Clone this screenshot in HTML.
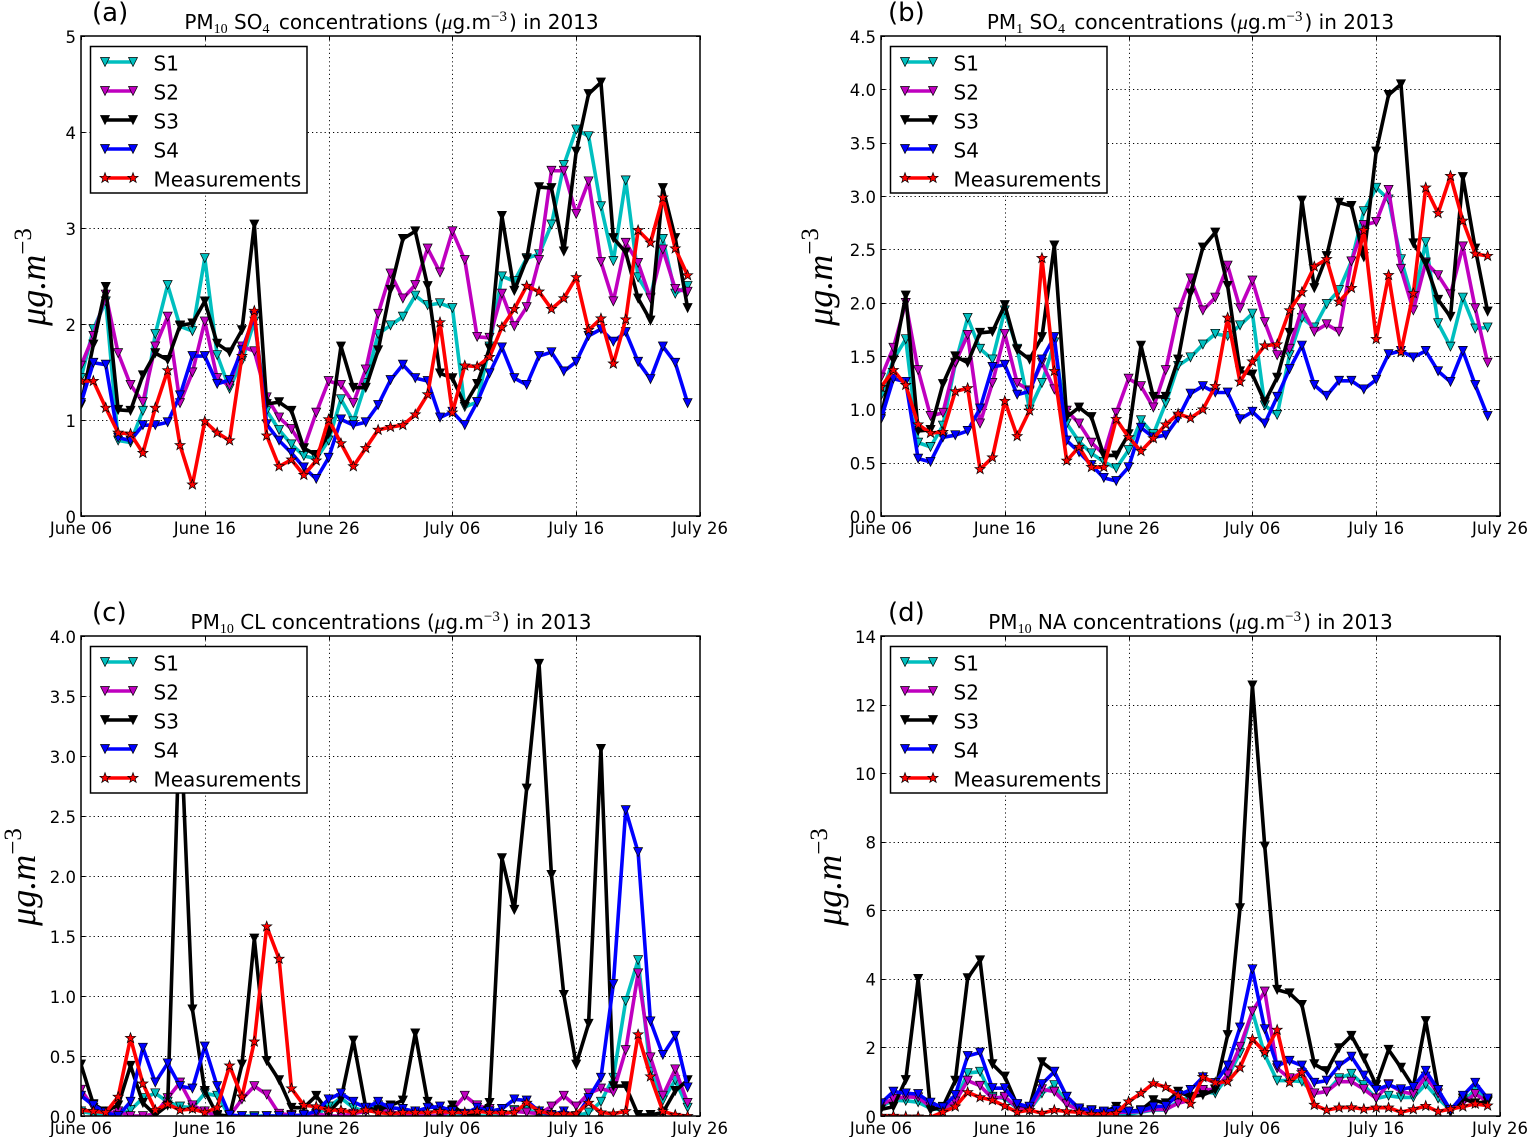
<!DOCTYPE html>
<html lang="en">
<head>
<meta charset="utf-8">
<title>Sulfate, chloride and sodium concentrations in 2013</title>
<style>
html,body{margin:0;padding:0;background:#fff;width:1528px;height:1137px;overflow:hidden}
svg{display:block}
text{font-family:"DejaVu Sans","Liberation Sans",sans-serif;fill:#000}
.tick{font-size:16.5px}
.title{font-size:20px;text-anchor:middle}
.sub{font-family:"Liberation Serif",serif;font-size:14px}
.sup{font-family:"Liberation Serif",serif;font-size:15px}
.mu{font-family:"Liberation Serif",serif;font-style:italic;font-size:21px}
.letter{font-size:26px}
.leg{font-size:20px}
.ylab{font-family:"Liberation Serif","DejaVu Serif",serif;font-style:italic;font-size:36px;text-anchor:middle}
.ylab .exp{font-style:normal;font-size:25px}
</style>
</head>
<body>
<svg id="figure" width="1528" height="1137" viewBox="0 0 1528 1137" xmlns="http://www.w3.org/2000/svg">
<defs>
<polygon id="tri" points="-4.5,-4.5 4.5,-4.5 0,4.5" stroke="#000" stroke-width="0.7"/>
<polygon id="star" points="0,-5.4 1.3,-1.8 5.1,-1.7 2.1,.7 3.2,4.4 0,2.2 -3.2,4.4 -2.1,.7 -5.1,-1.7 -1.3,-1.8" stroke="#000" stroke-width="0.7"/>
<clipPath id="clip-a"><rect x="81" y="36" width="619" height="480"/></clipPath>
<clipPath id="clip-b"><rect x="881" y="36" width="619" height="480"/></clipPath>
<clipPath id="clip-c"><rect x="81" y="636" width="619" height="480"/></clipPath>
<clipPath id="clip-d"><rect x="881" y="636" width="619" height="480"/></clipPath>
</defs>

<!-- Panel (a) -->
<g id="panel-a">
<g id="plot-a"></g>
<rect x="81" y="36" width="619" height="480" fill="none" stroke="#000" stroke-width="1.5"/>
<text class="letter" x="92" y="21">(a)</text>
<text class="title" x="391.5" y="29">PM<tspan class="sub" dy="4">10</tspan><tspan dy="-4"> SO</tspan><tspan class="sub" dy="4">4</tspan><tspan dy="-4" dx="3"> concentrations (</tspan><tspan class="mu">μ</tspan><tspan>g.m</tspan><tspan class="sup" dy="-8">−3</tspan><tspan dy="8" dx="2">) in 2013</tspan></text>
<text class="ylab" transform="translate(45,277) rotate(-90)">μg.m<tspan class="exp" dy="-14">−3</tspan></text>
<g>
<rect x="90.5" y="46.5" width="216.5" height="146.5" fill="#fff" stroke="#000" stroke-width="1.5"/>
<g><line x1="105" x2="133" y1="62" y2="62" stroke="#00bfbf" stroke-width="3.5"/><use href="#tri" x="105" y="62" fill="#00bfbf"/><use href="#tri" x="133" y="62" fill="#00bfbf"/><text class="leg" x="153.5" y="70.3">S1</text></g>
<g><line x1="105" x2="133" y1="91" y2="91" stroke="#bf00bf" stroke-width="3.5"/><use href="#tri" x="105" y="91" fill="#bf00bf"/><use href="#tri" x="133" y="91" fill="#bf00bf"/><text class="leg" x="153.5" y="99.7">S2</text></g>
<g><line x1="105" x2="133" y1="120" y2="120" stroke="#000" stroke-width="3.5"/><use href="#tri" x="105" y="120" fill="#000"/><use href="#tri" x="133" y="120" fill="#000"/><text class="leg" x="153.5" y="128.7">S3</text></g>
<g><line x1="105" x2="133" y1="149" y2="149" stroke="#00f" stroke-width="3.5"/><use href="#tri" x="105" y="149" fill="#00f"/><use href="#tri" x="133" y="149" fill="#00f"/><text class="leg" x="153.5" y="157.7">S4</text></g>
<g><line x1="105" x2="133" y1="178" y2="178" stroke="#f00" stroke-width="3.5"/><use href="#star" x="105" y="178" fill="#f00"/><use href="#star" x="133" y="178" fill="#f00"/><text class="leg" x="153.5" y="186.7">Measurements</text></g>
</g>
</g>

<!-- Panel (b) -->
<g id="panel-b">
<g id="plot-b"></g>
<rect x="881" y="36" width="619" height="480" fill="none" stroke="#000" stroke-width="1.5"/>
<text class="letter" x="888" y="21">(b)</text>
<text class="title" x="1190.5" y="29">PM<tspan class="sub" dy="4">1</tspan><tspan dy="-4"> SO</tspan><tspan class="sub" dy="4">4</tspan><tspan dy="-4" dx="3"> concentrations (</tspan><tspan class="mu">μ</tspan><tspan>g.m</tspan><tspan class="sup" dy="-8">−3</tspan><tspan dy="8" dx="2">) in 2013</tspan></text>
<text class="ylab" transform="translate(832,277) rotate(-90)">μg.m<tspan class="exp" dy="-14">−3</tspan></text>
<g>
<rect x="890.5" y="46.5" width="216.5" height="146.5" fill="#fff" stroke="#000" stroke-width="1.5"/>
<g><line x1="905" x2="933" y1="62" y2="62" stroke="#00bfbf" stroke-width="3.5"/><use href="#tri" x="905" y="62" fill="#00bfbf"/><use href="#tri" x="933" y="62" fill="#00bfbf"/><text class="leg" x="953.5" y="70.3">S1</text></g>
<g><line x1="905" x2="933" y1="91" y2="91" stroke="#bf00bf" stroke-width="3.5"/><use href="#tri" x="905" y="91" fill="#bf00bf"/><use href="#tri" x="933" y="91" fill="#bf00bf"/><text class="leg" x="953.5" y="99.7">S2</text></g>
<g><line x1="905" x2="933" y1="120" y2="120" stroke="#000" stroke-width="3.5"/><use href="#tri" x="905" y="120" fill="#000"/><use href="#tri" x="933" y="120" fill="#000"/><text class="leg" x="953.5" y="128.7">S3</text></g>
<g><line x1="905" x2="933" y1="149" y2="149" stroke="#00f" stroke-width="3.5"/><use href="#tri" x="905" y="149" fill="#00f"/><use href="#tri" x="933" y="149" fill="#00f"/><text class="leg" x="953.5" y="157.7">S4</text></g>
<g><line x1="905" x2="933" y1="178" y2="178" stroke="#f00" stroke-width="3.5"/><use href="#star" x="905" y="178" fill="#f00"/><use href="#star" x="933" y="178" fill="#f00"/><text class="leg" x="953.5" y="186.7">Measurements</text></g>
</g>
</g>

<!-- Panel (c) -->
<g id="panel-c">
<g id="plot-c"></g>
<rect x="81" y="636" width="619" height="480" fill="none" stroke="#000" stroke-width="1.5"/>
<text class="letter" x="92" y="621">(c)</text>
<text class="title" x="391" y="629">PM<tspan class="sub" dy="4">10</tspan><tspan dy="-4"> CL concentrations (</tspan><tspan class="mu">μ</tspan><tspan>g.m</tspan><tspan class="sup" dy="-8">−3</tspan><tspan dy="8" dx="2">) in 2013</tspan></text>
<text class="ylab" transform="translate(35,877) rotate(-90)">μg.m<tspan class="exp" dy="-14">−3</tspan></text>
<g>
<rect x="90.5" y="646.5" width="216.5" height="146.5" fill="#fff" stroke="#000" stroke-width="1.5"/>
<g><line x1="105" x2="133" y1="662" y2="662" stroke="#00bfbf" stroke-width="3.5"/><use href="#tri" x="105" y="662" fill="#00bfbf"/><use href="#tri" x="133" y="662" fill="#00bfbf"/><text class="leg" x="153.5" y="670.3">S1</text></g>
<g><line x1="105" x2="133" y1="691" y2="691" stroke="#bf00bf" stroke-width="3.5"/><use href="#tri" x="105" y="691" fill="#bf00bf"/><use href="#tri" x="133" y="691" fill="#bf00bf"/><text class="leg" x="153.5" y="699.7">S2</text></g>
<g><line x1="105" x2="133" y1="720" y2="720" stroke="#000" stroke-width="3.5"/><use href="#tri" x="105" y="720" fill="#000"/><use href="#tri" x="133" y="720" fill="#000"/><text class="leg" x="153.5" y="728.7">S3</text></g>
<g><line x1="105" x2="133" y1="749" y2="749" stroke="#00f" stroke-width="3.5"/><use href="#tri" x="105" y="749" fill="#00f"/><use href="#tri" x="133" y="749" fill="#00f"/><text class="leg" x="153.5" y="757.7">S4</text></g>
<g><line x1="105" x2="133" y1="778" y2="778" stroke="#f00" stroke-width="3.5"/><use href="#star" x="105" y="778" fill="#f00"/><use href="#star" x="133" y="778" fill="#f00"/><text class="leg" x="153.5" y="786.7">Measurements</text></g>
</g>
</g>

<!-- Panel (d) -->
<g id="panel-d">
<g id="plot-d"></g>
<rect x="881" y="636" width="619" height="480" fill="none" stroke="#000" stroke-width="1.5"/>
<text class="letter" x="888" y="621">(d)</text>
<text class="title" x="1190.5" y="629">PM<tspan class="sub" dy="4">10</tspan><tspan dy="-4"> NA concentrations (</tspan><tspan class="mu">μ</tspan><tspan>g.m</tspan><tspan class="sup" dy="-8">−3</tspan><tspan dy="8" dx="2">) in 2013</tspan></text>
<text class="ylab" transform="translate(841,877) rotate(-90)">μg.m<tspan class="exp" dy="-14">−3</tspan></text>
<g>
<rect x="890.5" y="646.5" width="216.5" height="146.5" fill="#fff" stroke="#000" stroke-width="1.5"/>
<g><line x1="905" x2="933" y1="662" y2="662" stroke="#00bfbf" stroke-width="3.5"/><use href="#tri" x="905" y="662" fill="#00bfbf"/><use href="#tri" x="933" y="662" fill="#00bfbf"/><text class="leg" x="953.5" y="670.3">S1</text></g>
<g><line x1="905" x2="933" y1="691" y2="691" stroke="#bf00bf" stroke-width="3.5"/><use href="#tri" x="905" y="691" fill="#bf00bf"/><use href="#tri" x="933" y="691" fill="#bf00bf"/><text class="leg" x="953.5" y="699.7">S2</text></g>
<g><line x1="905" x2="933" y1="720" y2="720" stroke="#000" stroke-width="3.5"/><use href="#tri" x="905" y="720" fill="#000"/><use href="#tri" x="933" y="720" fill="#000"/><text class="leg" x="953.5" y="728.7">S3</text></g>
<g><line x1="905" x2="933" y1="749" y2="749" stroke="#00f" stroke-width="3.5"/><use href="#tri" x="905" y="749" fill="#00f"/><use href="#tri" x="933" y="749" fill="#00f"/><text class="leg" x="953.5" y="757.7">S4</text></g>
<g><line x1="905" x2="933" y1="778" y2="778" stroke="#f00" stroke-width="3.5"/><use href="#star" x="905" y="778" fill="#f00"/><use href="#star" x="933" y="778" fill="#f00"/><text class="leg" x="953.5" y="786.7">Measurements</text></g>
</g>
</g>
</svg>

<script>
// Shared x axis
const xTickDays = [0, 10, 20, 30, 40, 50];
const xTickLabels = ['June 06', 'June 16', 'June 26', 'July 06', 'July 16', 'July 26'];

// Panel (a) PM10 SO4
const aTicks = [0, 1, 2, 3, 4, 5];
const aTickLabels = ['0', '1', '2', '3', '4', '5'];
const aS1 = [1.45,1.96,2.25,.80,.78,1.11,1.91,2.42,1.99,1.94,2.7,1.69,1.34,1.63,2.04,1.11,.91,.76,.64,.61,.8,1.23,1.0,1.4,1.91,2.0,2.09,2.31,2.21,2.23,2.18,1.15,1.2,1.78,2.51,2.46,2.7,2.74,3.05,3.67,4.04,3.97,3.24,2.67,3.51,2.5,2.29,2.9,2.33,2.41];
const aS2 = [1.58,1.89,2.32,1.71,1.38,1.2,1.78,2.09,1.19,1.51,2.04,1.45,1.37,1.78,1.73,1.25,1.04,.92,.72,1.09,1.42,1.38,1.19,1.54,2.12,2.54,2.28,2.42,2.8,2.55,2.98,2.68,1.88,1.87,2.33,1.99,2.19,2.68,3.61,3.61,3.16,3.5,2.66,2.25,2.86,2.65,2.28,2.79,2.38,2.35];
const aS3 = [1.17,1.8,2.4,1.12,1.11,1.48,1.71,1.64,2.0,2.02,2.25,1.81,1.72,1.95,3.05,1.18,1.2,1.11,.72,.65,.87,1.78,1.35,1.35,1.74,2.37,2.9,2.98,2.41,1.5,1.45,1.17,1.39,1.76,3.14,2.36,2.69,3.44,3.43,2.77,3.81,4.41,4.53,2.91,2.76,2.28,2.05,3.43,2.91,2.18];
const aS4 = [1.19,1.61,1.59,.83,.8,.96,.96,.99,1.27,1.68,1.68,1.39,1.43,1.74,2.1,.97,.8,.67,.52,.4,.62,1.02,.96,.99,1.17,1.43,1.59,1.45,1.42,1.04,1.1,.96,1.2,1.5,1.77,1.45,1.38,1.68,1.72,1.52,1.62,1.89,1.96,1.83,1.93,1.62,1.44,1.78,1.61,1.19];
const aMeas = [1.42,1.42,1.14,.88,.87,.67,1.14,1.53,.75,.34,1.0,.88,.8,1.68,2.15,.85,.53,.6,.44,.59,1.02,.77,.53,.72,.91,.94,.96,1.07,1.28,2.03,1.09,1.58,1.57,1.67,1.98,2.17,2.41,2.35,2.17,2.28,2.5,1.95,2.07,1.6,2.06,2.99,2.86,3.33,2.8,2.52];

// Panel (b) PM1 SO4
const bTicks = [0, 0.5, 1, 1.5, 2, 2.5, 3, 3.5, 4, 4.5];
const bTickLabels = ['0.0', '0.5', '1.0', '1.5', '2.0', '2.5', '3.0', '3.5', '4.0', '4.5'];
const bS1 = [1.14,1.48,1.67,.7,.66,.86,1.44,1.87,1.58,1.48,1.94,1.58,1.01,1.26,1.64,.88,.71,.6,.52,.46,.63,.91,.78,1.07,1.42,1.5,1.62,1.72,1.7,1.8,1.91,1.05,.96,1.52,1.87,1.78,2.0,2.13,2.4,2.87,3.09,2.98,2.42,2.02,2.58,1.82,1.6,2.06,1.77,1.78];
const bS2 = [1.31,1.59,2.01,1.38,.95,.98,1.45,1.71,.88,1.26,1.72,1.26,1.19,1.45,1.2,1.0,.88,.7,.59,.98,1.3,1.23,1.03,1.38,1.92,2.24,1.94,2.06,2.36,1.96,2.22,1.83,1.52,1.58,1.96,1.74,1.81,1.74,2.4,2.74,2.77,3.07,2.33,1.94,2.39,2.27,2.09,2.54,1.96,1.45];
const bS3 = [.94,1.47,2.08,.81,.82,1.25,1.51,1.45,1.73,1.74,1.99,1.57,1.48,1.69,2.55,.94,1.03,.94,.58,.58,.78,1.61,1.13,1.13,1.48,2.1,2.53,2.67,2.17,1.37,1.34,1.08,1.31,1.73,2.97,2.15,2.45,2.95,2.92,2.44,3.43,3.96,4.06,2.57,2.38,2.04,1.88,3.19,2.52,1.93];
const bS4 = [.92,1.3,1.27,.55,.52,.75,.77,.81,1.02,1.41,1.43,1.15,1.18,1.48,1.69,.72,.61,.49,.37,.34,.47,.84,.75,.77,.93,1.16,1.23,1.17,1.17,.92,.99,.88,1.13,1.39,1.61,1.24,1.14,1.28,1.28,1.2,1.29,1.53,1.56,1.5,1.56,1.37,1.27,1.56,1.24,.95];
const bMeas = [1.22,1.38,1.24,.87,.79,.8,1.18,1.21,.45,.56,1.09,.76,1.0,2.43,1.37,.53,.66,.47,.47,.92,.75,.62,.74,.87,.97,.93,1.01,1.23,1.87,1.27,1.46,1.61,1.62,1.94,2.11,2.35,2.42,2.02,2.15,2.69,1.67,2.27,1.55,2.1,3.09,2.85,3.2,2.78,2.47,2.45];

// Panel (c) PM10 CL
const cTicks = [0, 0.5, 1, 1.5, 2, 2.5, 3, 3.5, 4];
const cTickLabels = ['0.0', '0.5', '1.0', '1.5', '2.0', '2.5', '3.0', '3.5', '4.0'];
const cS1 = [.05,.03,.02,.02,.06,.16,.2,.13,.09,.08,.2,.18,.01,.01,.01,.01,.01,.01,.01,.02,.09,.16,.08,.05,.1,.05,.02,.01,.01,.01,.01,.01,.01,.01,.01,.06,.08,.01,.01,.01,.01,.04,.13,.33,.97,1.31,.38,.14,.31,.08];
const cS2 = [.23,.08,.03,.05,.01,.01,.03,.16,.29,.1,.05,.01,.01,.15,.26,.19,.03,.02,.01,.03,.01,.01,.03,.05,.06,.05,.02,.01,.01,.01,.06,.18,.1,.07,.02,.05,.04,.03,.09,.18,.09,.2,.24,.21,.56,1.2,.5,.18,.4,.12];
const cS3 = [.44,.11,.05,.1,.43,.12,.02,.1,3.4,.9,.22,.02,.01,.44,1.49,.47,.31,.08,.08,.18,.04,.15,.64,.08,.06,.1,.14,.7,.13,.03,.1,.02,.02,.12,2.16,1.73,2.74,3.78,2.02,1.02,.44,.78,3.07,.26,.26,.02,.02,.04,.22,.31];
const cS4 = [.18,.1,.04,.01,.13,.58,.29,.45,.26,.24,.59,.26,.02,.01,0,.01,.01,.01,.02,.05,.15,.2,.13,.08,.13,.08,.07,.05,.08,.09,.05,.03,.08,.05,.07,.15,.14,.05,.02,.05,.01,.16,.33,1.11,2.56,2.21,.8,.52,.68,.25];
const cMeas = [.06,.05,.04,.17,.66,.28,.06,.11,.06,.07,.04,.08,.43,.17,.63,1.59,1.32,.24,.1,.09,.06,.06,.04,.06,.04,.03,.04,.04,.04,.05,.04,.04,.05,.04,.04,.04,.12,.05,.03,.03,.03,.12,.04,.03,.05,.69,.34,.05,.02,.01];

// Panel (d) PM10 NA
const dTicks = [0, 2, 4, 6, 8, 10, 12, 14];
const dTickLabels = ['0', '2', '4', '6', '8', '10', '12', '14'];
const dS1 = [.31,.5,.48,.44,.26,.21,.46,1.29,1.33,.6,.55,.26,.21,.7,.94,.41,.21,.15,.12,.12,.09,.15,.21,.21,.46,.6,.75,.7,1.19,1.87,3.09,1.82,1.07,1.07,1.04,.7,.75,1.14,1.27,.94,.55,.63,.58,.58,.96,.55,.21,.46,.8,.5];
const dS2 = [.36,.54,.6,.58,.31,.26,.46,1.07,.92,.55,.6,.28,.21,.82,.75,.38,.21,.17,.12,.14,.15,.17,.23,.23,.41,.5,.8,.82,1.25,2.06,3.09,3.67,1.43,1.14,1.29,.7,.75,1.04,1.04,.82,.55,.97,.75,.68,1.19,.7,.21,.41,.68,.46];
const dS3 = [.23,.31,1.09,4.04,.21,.31,1.07,4.06,4.58,1.55,1.19,.36,.31,1.61,1.33,.6,.26,.21,.15,.31,.17,.21,.5,.41,.75,.6,.65,.8,2.4,6.1,12.6,7.9,3.72,3.62,3.28,1.55,1.35,2.02,2.38,1.72,.94,1.97,1.45,.88,2.81,.8,.15,.55,.41,.46];
const dS4 = [.41,.75,.7,.68,.43,.29,.65,1.79,1.89,.85,.85,.39,.31,.97,1.33,.6,.26,.2,.17,.21,.17,.19,.31,.33,.65,.8,1.17,1.0,1.51,2.62,4.32,2.57,1.51,1.65,1.51,1.01,1.07,1.51,1.77,1.22,.8,.94,.82,.88,1.36,.8,.21,.63,1.01,.55];
const dMeas = [.04,.04,.02,.02,0,.15,.31,.73,.58,.5,.33,.15,.21,.12,.21,.17,.15,.09,.1,.12,.46,.7,.99,.88,.63,.39,1.17,1.01,1.04,1.45,2.28,1.9,2.55,1.02,1.31,.36,.21,.28,.29,.24,.28,.28,.15,.23,.33,.17,.24,.31,.39,.34];

const SVGNS = 'http://www.w3.org/2000/svg';
const seriesStyles = [
  {key: 's1', color: '#00bfbf', marker: '#tri'},
  {key: 's2', color: '#bf00bf', marker: '#tri'},
  {key: 's3', color: '#000000', marker: '#tri'},
  {key: 's4', color: '#0000ff', marker: '#tri'},
  {key: 'measurements', color: '#ff0000', marker: '#star'}
];

function drawPanel(id, left, top, yTicks, yLabels, allSeries) {
  const width = 619, height = 480;
  const yMax = yTicks[yTicks.length - 1];
  const xDomain = xTickDays[xTickDays.length - 1];
  const xScale = function (day) { return left + day / xDomain * width; };
  const yScale = function (value) { return top + height - value / yMax * height; };
  const plot = document.getElementById('plot-' + id);

  const gridLayer = document.createElementNS(SVGNS, 'g');
  
  
  plot.appendChild(gridLayer);

  function segment(x1, y1, x2, y2, dotted, name) {
    const ln = document.createElementNS(SVGNS, 'line');
    
    
    ln.setAttribute('x1', x1);
    ln.setAttribute('y1', y1);
    ln.setAttribute('x2', x2);
    ln.setAttribute('y2', y2);
    ln.setAttribute('stroke', '#000');
    ln.setAttribute('stroke-width', dotted ? 0.9 : 1);
    if (dotted) ln.setAttribute('stroke-dasharray', '1.2 3');
    gridLayer.appendChild(ln);
  }

  function label(x, y, anchor, content, name) {
    const t = document.createElementNS(SVGNS, 'text');
    
    
    t.setAttribute('class', 'tick');
    t.setAttribute('x', x);
    t.setAttribute('y', y);
    t.setAttribute('text-anchor', anchor);
    t.textContent = content;
    gridLayer.appendChild(t);
  }

  xTickDays.forEach(function (day, i) {
    const x = Math.round(xScale(day)) + 0.5;
    if (i > 0 && i < xTickDays.length - 1) segment(x, top, x, top + height, true, 'x-gridline');
    segment(x, top + height, x, top + height - 4, false, 'x-tick');
    segment(x, top, x, top + 4, false, 'x-tick-top');
    label(xScale(day), top + height + 18, 'middle', xTickLabels[i], 'x-tick-label');
  });

  yTicks.forEach(function (value, i) {
    const y = Math.round(yScale(value)) + 0.5;
    if (i > 0 && i < yTicks.length - 1) segment(left, y, left + width, y, true, 'y-gridline');
    segment(left, y, left + 4, y, false, 'y-tick');
    segment(left + width, y, left + width - 4, y, false, 'y-tick-right');
    label(left - 5, yScale(value) + 6.8, 'end', yLabels[i], 'y-tick-label');
  });

  const clipped = document.createElementNS(SVGNS, 'g');
  
  
  clipped.setAttribute('clip-path', 'url(#clip-' + id + ')');
  plot.appendChild(clipped);

  allSeries.forEach(function (values, s) {
    const style = seriesStyles[s];
    const group = document.createElementNS(SVGNS, 'g');
    
    
    group.setAttribute('transform', 'translate(0,1.3)');
    clipped.appendChild(group);

    const line = document.createElementNS(SVGNS, 'polyline');
    
    
    line.setAttribute('fill', 'none');
    line.setAttribute('stroke', style.color);
    line.setAttribute('stroke-width', '3.6');
    line.setAttribute('stroke-linejoin', 'round');
    line.setAttribute('points', values.map(function (v, i) {
      return xScale(i).toFixed(2) + ',' + yScale(v).toFixed(2);
    }).join(' '));
    group.appendChild(line);

    values.forEach(function (v, i) {
      const mark = document.createElementNS(SVGNS, 'use');
      
      
      mark.setAttribute('href', style.marker);
      mark.setAttribute('fill', style.color);
      mark.setAttribute('x', xScale(i).toFixed(2));
      mark.setAttribute('y', yScale(v).toFixed(2));
      group.appendChild(mark);
    });
  });
}

drawPanel('a', 81, 36, aTicks, aTickLabels, [aS1, aS2, aS3, aS4, aMeas]);
drawPanel('b', 881, 36, bTicks, bTickLabels, [bS1, bS2, bS3, bS4, bMeas]);
drawPanel('c', 81, 636, cTicks, cTickLabels, [cS1, cS2, cS3, cS4, cMeas]);
drawPanel('d', 881, 636, dTicks, dTickLabels, [dS1, dS2, dS3, dS4, dMeas]);
</script>
</body>
</html>
